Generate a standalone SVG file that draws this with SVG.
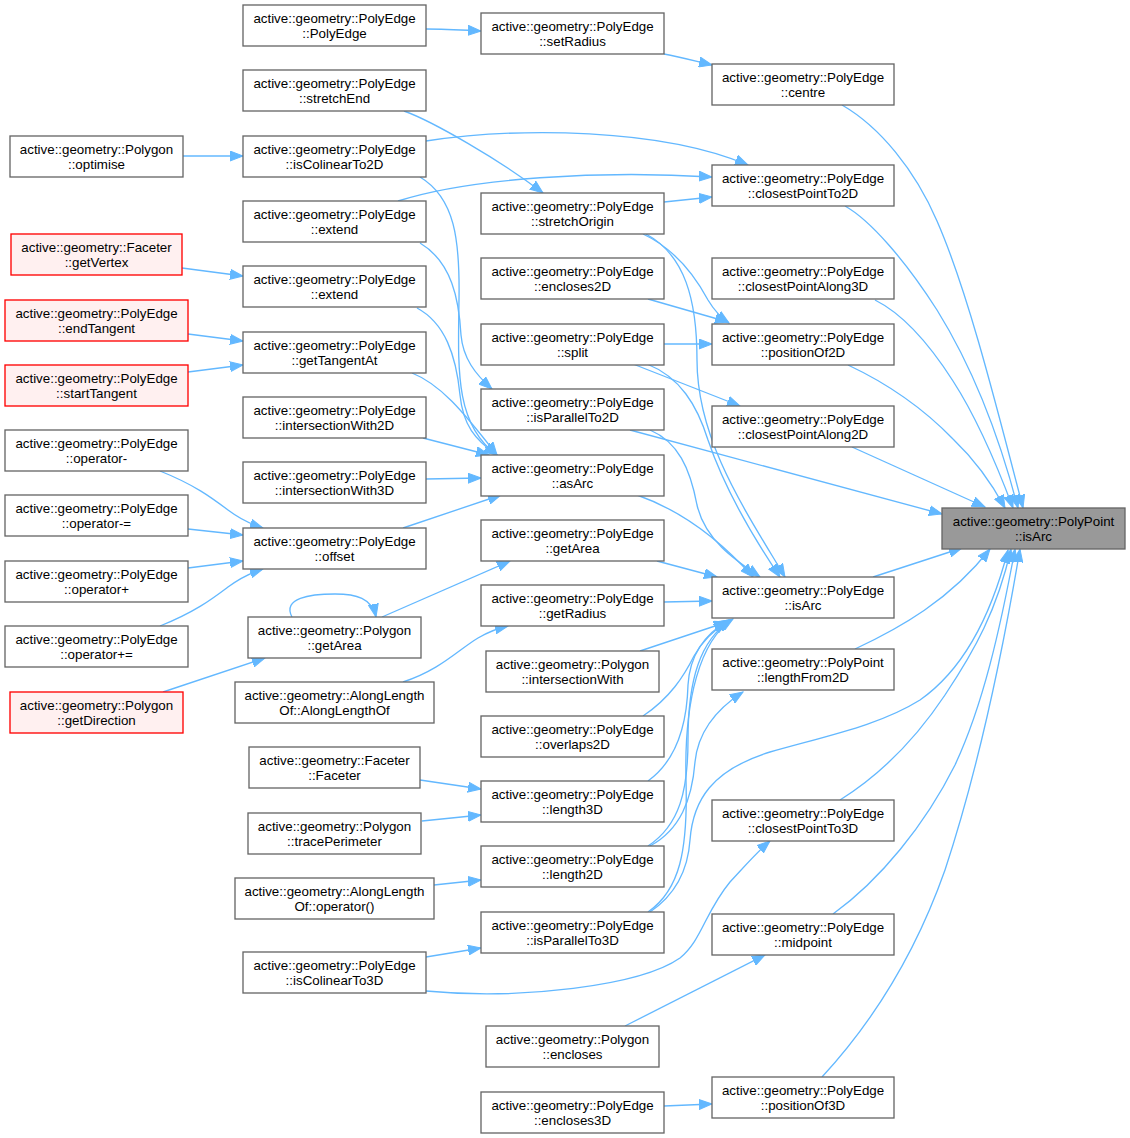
<svg xmlns="http://www.w3.org/2000/svg" width="1130" height="1138" viewBox="0 0 1130 1138">
<style>
.n rect{fill:#ffffff;stroke:#666666;stroke-width:1.33}
.r rect{fill:#fff0f0;stroke:#ff0000;stroke-width:1.33}
.m rect{fill:#999999;stroke:#666666;stroke-width:1.33}
text{font-family:"Liberation Sans",Arial,Helvetica,sans-serif;font-size:13.33px;fill:#000000;text-anchor:middle}
#edges path{fill:none;stroke:#63b8ff;stroke-width:1.33;marker-end:url(#a)}
</style>
<defs>
<marker id="a" markerUnits="userSpaceOnUse" markerWidth="14" markerHeight="11" viewBox="0 0 14 11" refX="13" refY="5.5" orient="auto">
<path d="M0,0.5 L13,5.5 L0,10.5 z" fill="#63b8ff" stroke="#63b8ff" stroke-width="1"/>
</marker>
</defs>
<rect x="0" y="0" width="1130" height="1138" fill="#ffffff"/>

<g id="edges">
<path d="M426,29 C445,29 462,30 481,31"/>
<path d="M664,54 C680,57 695,61 712,65"/>
<path d="M404,111 C432,121 500,160 543,193"/>
<path d="M426,141 C520,127 660,128 748,165"/>
<path d="M183,156 L243,156"/>
<path d="M398,201 C470,178 600,170 712,177"/>
<path d="M664,202 L712,197"/>
<path d="M420,177 C455,198 460,240 459,300 C458,370 455,425 497,455"/>
<path d="M420,243 C452,262 459,300 461,335 C463,358 475,374 492,389"/>
<path d="M417,308 C445,323 456,355 460,395 C463,425 475,440 497,455"/>
<path d="M412,373 C440,384 462,410 497,455"/>
<path d="M423,438 L489,455"/>
<path d="M426,479 L481,478"/>
<path d="M403,528 L501,495"/>
<path d="M182,268 L243,276"/>
<path d="M188,334 L243,341"/>
<path d="M188,372 L243,365"/>
<path d="M160,471 C195,485 212,498 228,510 C240,519 250,524 263,528"/>
<path d="M188,529 L243,535"/>
<path d="M188,568 L243,561"/>
<path d="M160,626 C195,612 212,599 228,587 C240,578 250,573 263,569"/>
<path d="M163,692 L265,658"/>
<path d="M292,617 C282,598 310,594 335,594 C356,594 372,598 376,617"/>
<path d="M382,617 L510,561"/>
<path d="M403,682 C440,670 458,650 478,638 C490,631 499,628 508,626"/>
<path d="M420,780 L481,789"/>
<path d="M422,821 L481,815"/>
<path d="M434,885 L481,880"/>
<path d="M426,957 L481,948"/>
<path d="M426,991 C520,1000 640,986 680,958 C702,940 705,912 730,882 C745,866 757,852 770,841"/>
<path d="M625,1026 L765,955"/>
<path d="M664,1106 L712,1104"/>
<path d="M643,234 C673,248 694,274 708,300 C714,310 720,317 729,323"/>
<path d="M646,234 C685,255 697,300 697,360 C697,440 745,510 785,577"/>
<path d="M647,364 C680,377 697,405 708,440 C725,490 755,540 780,577"/>
<path d="M633,364 L740,406"/>
<path d="M648,299 L728,322"/>
<path d="M664,344 L712,344"/>
<path d="M650,430 C678,442 690,468 697,505 C705,540 735,560 760,577"/>
<path d="M630,430 L942,514"/>
<path d="M637,495 C680,510 720,540 753,577"/>
<path d="M657,561 L717,577"/>
<path d="M664,602 L712,601"/>
<path d="M640,651 L727,622"/>
<path d="M643,716 C670,698 684,676 694,656 C703,640 714,630 727,622"/>
<path d="M648,781 C677,760 687,722 688,685 C690,652 708,632 729,620"/>
<path d="M648,846 C680,825 688,790 688,740 C688,680 700,640 731,620"/>
<path d="M650,846 C680,830 692,800 695,762 C698,732 715,710 743,692"/>
<path d="M648,912 C680,890 688,850 686,780 C684,700 700,640 733,619"/>
<path d="M650,912 C675,895 688,870 690,840 C693,800 712,770 770,752 C830,735 880,725 920,700 C960,672 990,620 1008,550"/>
<path d="M873,577 L962,548"/>
<path d="M855,649 C900,628 950,600 990,549"/>
<path d="M840,800 C880,775 915,740 945,695 C975,650 997,610 1011,549"/>
<path d="M833,914 C880,880 925,825 955,765 C983,705 1000,630 1015,549"/>
<path d="M822,1077 C870,1025 915,955 945,870 C978,770 1003,650 1020,549"/>
<path d="M842,105 C880,127 915,170 937,221 C965,285 990,380 1023,508"/>
<path d="M845,206 C870,220 905,260 937,310 C965,355 995,420 1018,508"/>
<path d="M875,300 C905,315 930,345 953,381 C975,415 995,460 1013,508"/>
<path d="M848,365 C880,380 920,405 953,439 C975,460 990,480 1005,508"/>
<path d="M852,447 L985,507"/>
</g>

<g id="n_optimise" class="n"><rect x="10" y="136" width="173" height="41"/><text x="96.5" y="154">active::geometry::Polygon</text><text x="96.5" y="169">::optimise</text></g>
<g id="n_getVertex" class="r"><rect x="11" y="234" width="171" height="41"/><text x="96.5" y="252">active::geometry::Faceter</text><text x="96.5" y="267">::getVertex</text></g>
<g id="n_endTangent" class="r"><rect x="5" y="300" width="183" height="41"/><text x="96.5" y="318">active::geometry::PolyEdge</text><text x="96.5" y="333">::endTangent</text></g>
<g id="n_startTangent" class="r"><rect x="5" y="365" width="183" height="41"/><text x="96.5" y="383">active::geometry::PolyEdge</text><text x="96.5" y="398">::startTangent</text></g>
<g id="n_opMinus" class="n"><rect x="5" y="430" width="183" height="41"/><text x="96.5" y="448">active::geometry::PolyEdge</text><text x="96.5" y="463">::operator-</text></g>
<g id="n_opMinusEq" class="n"><rect x="5" y="495" width="183" height="41"/><text x="96.5" y="513">active::geometry::PolyEdge</text><text x="96.5" y="528">::operator-=</text></g>
<g id="n_opPlus" class="n"><rect x="5" y="561" width="183" height="41"/><text x="96.5" y="579">active::geometry::PolyEdge</text><text x="96.5" y="594">::operator+</text></g>
<g id="n_opPlusEq" class="n"><rect x="5" y="626" width="183" height="41"/><text x="96.5" y="644">active::geometry::PolyEdge</text><text x="96.5" y="659">::operator+=</text></g>
<g id="n_getDirection" class="r"><rect x="10" y="692" width="173" height="41"/><text x="96.5" y="710">active::geometry::Polygon</text><text x="96.5" y="725">::getDirection</text></g>

<g id="n_PolyEdge" class="n"><rect x="243" y="5" width="183" height="41"/><text x="334.5" y="23">active::geometry::PolyEdge</text><text x="334.5" y="38">::PolyEdge</text></g>
<g id="n_stretchEnd" class="n"><rect x="243" y="70" width="183" height="41"/><text x="334.5" y="88">active::geometry::PolyEdge</text><text x="334.5" y="103">::stretchEnd</text></g>
<g id="n_isColinearTo2D" class="n"><rect x="243" y="136" width="183" height="41"/><text x="334.5" y="154">active::geometry::PolyEdge</text><text x="334.5" y="169">::isColinearTo2D</text></g>
<g id="n_extend1" class="n"><rect x="243" y="201" width="183" height="41"/><text x="334.5" y="219">active::geometry::PolyEdge</text><text x="334.5" y="234">::extend</text></g>
<g id="n_extend2" class="n"><rect x="243" y="266" width="183" height="41"/><text x="334.5" y="284">active::geometry::PolyEdge</text><text x="334.5" y="299">::extend</text></g>
<g id="n_getTangentAt" class="n"><rect x="243" y="332" width="183" height="41"/><text x="334.5" y="350">active::geometry::PolyEdge</text><text x="334.5" y="365">::getTangentAt</text></g>
<g id="n_intersectionWith2D" class="n"><rect x="243" y="397" width="183" height="41"/><text x="334.5" y="415">active::geometry::PolyEdge</text><text x="334.5" y="430">::intersectionWith2D</text></g>
<g id="n_intersectionWith3D" class="n"><rect x="243" y="462" width="183" height="41"/><text x="334.5" y="480">active::geometry::PolyEdge</text><text x="334.5" y="495">::intersectionWith3D</text></g>
<g id="n_offset" class="n"><rect x="243" y="528" width="183" height="41"/><text x="334.5" y="546">active::geometry::PolyEdge</text><text x="334.5" y="561">::offset</text></g>
<g id="n_PolygonGetArea" class="n"><rect x="248" y="617" width="173" height="41"/><text x="334.5" y="635">active::geometry::Polygon</text><text x="334.5" y="650">::getArea</text></g>
<g id="n_AlongLengthOf" class="n"><rect x="235" y="682" width="199" height="41"/><text x="334.5" y="700">active::geometry::AlongLength</text><text x="334.5" y="715">Of::AlongLengthOf</text></g>
<g id="n_Faceter" class="n"><rect x="249" y="747" width="171" height="41"/><text x="334.5" y="765">active::geometry::Faceter</text><text x="334.5" y="780">::Faceter</text></g>
<g id="n_tracePerimeter" class="n"><rect x="248" y="813" width="173" height="41"/><text x="334.5" y="831">active::geometry::Polygon</text><text x="334.5" y="846">::tracePerimeter</text></g>
<g id="n_AlongLengthOfOp" class="n"><rect x="235" y="878" width="199" height="41"/><text x="334.5" y="896">active::geometry::AlongLength</text><text x="334.5" y="911">Of::operator()</text></g>
<g id="n_isColinearTo3D" class="n"><rect x="243" y="952" width="183" height="41"/><text x="334.5" y="970">active::geometry::PolyEdge</text><text x="334.5" y="985">::isColinearTo3D</text></g>

<g id="n_setRadius" class="n"><rect x="481" y="13" width="183" height="41"/><text x="572.5" y="31">active::geometry::PolyEdge</text><text x="572.5" y="46">::setRadius</text></g>
<g id="n_stretchOrigin" class="n"><rect x="481" y="193" width="183" height="41"/><text x="572.5" y="211">active::geometry::PolyEdge</text><text x="572.5" y="226">::stretchOrigin</text></g>
<g id="n_encloses2D" class="n"><rect x="481" y="258" width="183" height="41"/><text x="572.5" y="276">active::geometry::PolyEdge</text><text x="572.5" y="291">::encloses2D</text></g>
<g id="n_split" class="n"><rect x="481" y="324" width="183" height="41"/><text x="572.5" y="342">active::geometry::PolyEdge</text><text x="572.5" y="357">::split</text></g>
<g id="n_isParallelTo2D" class="n"><rect x="481" y="389" width="183" height="41"/><text x="572.5" y="407">active::geometry::PolyEdge</text><text x="572.5" y="422">::isParallelTo2D</text></g>
<g id="n_asArc" class="n"><rect x="481" y="455" width="183" height="41"/><text x="572.5" y="473">active::geometry::PolyEdge</text><text x="572.5" y="488">::asArc</text></g>
<g id="n_getArea" class="n"><rect x="481" y="520" width="183" height="41"/><text x="572.5" y="538">active::geometry::PolyEdge</text><text x="572.5" y="553">::getArea</text></g>
<g id="n_getRadius" class="n"><rect x="481" y="585" width="183" height="41"/><text x="572.5" y="603">active::geometry::PolyEdge</text><text x="572.5" y="618">::getRadius</text></g>
<g id="n_intersectionWith" class="n"><rect x="486" y="651" width="173" height="41"/><text x="572.5" y="669">active::geometry::Polygon</text><text x="572.5" y="684">::intersectionWith</text></g>
<g id="n_overlaps2D" class="n"><rect x="481" y="716" width="183" height="41"/><text x="572.5" y="734">active::geometry::PolyEdge</text><text x="572.5" y="749">::overlaps2D</text></g>
<g id="n_length3D" class="n"><rect x="481" y="781" width="183" height="41"/><text x="572.5" y="799">active::geometry::PolyEdge</text><text x="572.5" y="814">::length3D</text></g>
<g id="n_length2D" class="n"><rect x="481" y="846" width="183" height="41"/><text x="572.5" y="864">active::geometry::PolyEdge</text><text x="572.5" y="879">::length2D</text></g>
<g id="n_isParallelTo3D" class="n"><rect x="481" y="912" width="183" height="41"/><text x="572.5" y="930">active::geometry::PolyEdge</text><text x="572.5" y="945">::isParallelTo3D</text></g>
<g id="n_encloses" class="n"><rect x="486" y="1026" width="173" height="41"/><text x="572.5" y="1044">active::geometry::Polygon</text><text x="572.5" y="1059">::encloses</text></g>
<g id="n_encloses3D" class="n"><rect x="481" y="1092" width="183" height="41"/><text x="572.5" y="1110">active::geometry::PolyEdge</text><text x="572.5" y="1125">::encloses3D</text></g>

<g id="n_centre" class="n"><rect x="712" y="64" width="182" height="41"/><text x="803" y="82">active::geometry::PolyEdge</text><text x="803" y="97">::centre</text></g>
<g id="n_closestPointTo2D" class="n"><rect x="712" y="165" width="182" height="41"/><text x="803" y="183">active::geometry::PolyEdge</text><text x="803" y="198">::closestPointTo2D</text></g>
<g id="n_closestPointAlong3D" class="n"><rect x="712" y="258" width="182" height="41"/><text x="803" y="276">active::geometry::PolyEdge</text><text x="803" y="291">::closestPointAlong3D</text></g>
<g id="n_positionOf2D" class="n"><rect x="712" y="324" width="182" height="41"/><text x="803" y="342">active::geometry::PolyEdge</text><text x="803" y="357">::positionOf2D</text></g>
<g id="n_closestPointAlong2D" class="n"><rect x="712" y="406" width="182" height="41"/><text x="803" y="424">active::geometry::PolyEdge</text><text x="803" y="439">::closestPointAlong2D</text></g>
<g id="n_edgeIsArc" class="n"><rect x="712" y="577" width="182" height="41"/><text x="803" y="595">active::geometry::PolyEdge</text><text x="803" y="610">::isArc</text></g>
<g id="n_lengthFrom2D" class="n"><rect x="712" y="649" width="182" height="41"/><text x="803" y="667">active::geometry::PolyPoint</text><text x="803" y="682">::lengthFrom2D</text></g>
<g id="n_closestPointTo3D" class="n"><rect x="712" y="800" width="182" height="41"/><text x="803" y="818">active::geometry::PolyEdge</text><text x="803" y="833">::closestPointTo3D</text></g>
<g id="n_midpoint" class="n"><rect x="712" y="914" width="182" height="41"/><text x="803" y="932">active::geometry::PolyEdge</text><text x="803" y="947">::midpoint</text></g>
<g id="n_positionOf3D" class="n"><rect x="712" y="1077" width="182" height="41"/><text x="803" y="1095">active::geometry::PolyEdge</text><text x="803" y="1110">::positionOf3D</text></g>

<g id="n_pointIsArc" class="m"><rect x="942" y="508" width="183" height="41"/><text x="1033.5" y="526">active::geometry::PolyPoint</text><text x="1033.5" y="541">::isArc</text></g>
</svg>
